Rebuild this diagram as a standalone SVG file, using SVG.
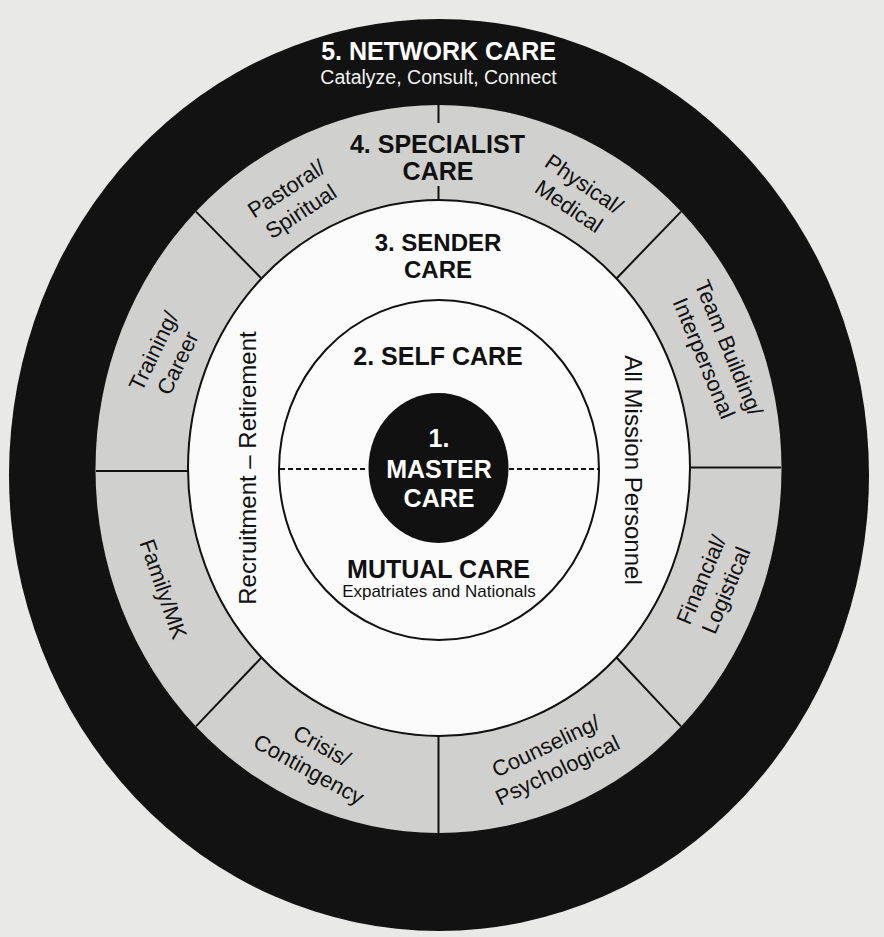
<svg xmlns="http://www.w3.org/2000/svg" width="884" height="937" viewBox="0 0 884 937">
  <style>
    text { font-family: "Liberation Sans", Arial, sans-serif; text-anchor: middle; }
    .head { font-weight: bold; font-size: 25px; fill: #111; }
    .head2 { font-weight: bold; font-size: 24px; fill: #111; }
    .headw { font-weight: bold; font-size: 25px; fill: #fff; }
    .sub { font-size: 17px; fill: #111; }
    .subw { font-size: 19.5px; fill: #f2f2f2; }
    .seg { font-size: 22px; fill: #111; }
    .vert { font-size: 24px; fill: #111; }
    .outline { fill: #fbfbfb; stroke: #111; stroke-width: 2; }
    .div { stroke: #111; stroke-width: 2; fill: none; }
    .dash { stroke: #111; stroke-width: 2; stroke-dasharray: 5 3; fill: none; }
  </style>
  <rect x="0" y="0" width="884" height="937" fill="#e9e9e7"/>

  <g id="ring-network">
    <ellipse cx="439" cy="475" rx="430" ry="456" fill="#121212"/>
    <text class="headw" x="438.5" y="59.5">5. NETWORK CARE</text>
    <text class="subw" x="438.5" y="84">Catalyze, Consult, Connect</text>
  </g>

  <g id="ring-specialist">
    <ellipse cx="438.5" cy="469" rx="343" ry="364" fill="#d0d0ce"/>
    <text class="head" x="437.5" y="153">4. SPECIALIST</text>
    <text class="head" x="438" y="180">CARE</text>
  </g>

  <g id="ring-sender">
    <ellipse class="outline" cx="439" cy="468" rx="251" ry="268"/>
    <text class="head2" x="438" y="250.5">3. SENDER</text>
    <text class="head2" x="438" y="277.5">CARE</text>
    <text class="vert" transform="translate(256,468) rotate(-90)">Recruitment – Retirement</text>
    <text class="vert" transform="translate(625,470) rotate(90)">All Mission Personnel</text>
  </g>

  <g id="ring-self">
    <ellipse class="outline" cx="439" cy="470" rx="160" ry="170"/>
    <text class="head" x="438" y="365">2. SELF CARE</text>
    <text class="head" x="438.5" y="578">MUTUAL CARE</text>
    <text class="sub" x="439" y="597">Expatriates and Nationals</text>
  </g>

  <g id="connectors">
    <line class="dash" x1="280" y1="469" x2="368" y2="469"/>
    <line class="dash" x1="509" y1="469" x2="598" y2="469"/>
    <line class="div" x1="438.5" y1="105" x2="438.5" y2="123"/>
    <line class="div" x1="438.5" y1="186" x2="438.5" y2="201"/>
    <line class="div" x1="438.5" y1="735" x2="438.5" y2="833"/>
    <line class="div" x1="96" y1="471" x2="189" y2="471"/>
    <line class="div" x1="689" y1="467.5" x2="781" y2="467.5"/>
    <line class="div" x1="196" y1="211.6" x2="261.5" y2="278.5"/>
    <line class="div" x1="681" y1="211.6" x2="616.5" y2="278.5"/>
    <line class="div" x1="196" y1="726.4" x2="261.5" y2="657.5"/>
    <line class="div" x1="681" y1="726.4" x2="616.5" y2="657.5"/>
  </g>

  <g id="master-care">
    <ellipse cx="438.5" cy="468" rx="70" ry="75" fill="#111"/>
    <text class="headw" x="439" y="447">1.</text>
    <text class="headw" x="439" y="478">MASTER</text>
    <text class="headw" x="439" y="507">CARE</text>
  </g>

  <g id="seg-pastoral" transform="translate(293.5,200) rotate(-33)">
    <text class="seg" y="-5.8">Pastoral/</text>
    <text class="seg" y="21.2">Spiritual</text>
  </g>
  <g id="seg-physical" transform="translate(576.5,195) rotate(34)">
    <text class="seg" y="-5.8">Physical/</text>
    <text class="seg" y="21.2">Medical</text>
  </g>
  <g id="seg-training" transform="translate(165.5,357) rotate(-64)">
    <text class="seg" y="-5.8">Training/</text>
    <text class="seg" y="21.2">Career</text>
  </g>
  <g id="seg-team" transform="translate(716.5,353) rotate(67.5)">
    <text class="seg" y="-5.8">Team Building/</text>
    <text class="seg" y="21.2">Interpersonal</text>
  </g>
  <g id="seg-family" transform="translate(163.5,589) rotate(71)">
    <text class="seg" y="7.7">Family/MK</text>
  </g>
  <g id="seg-financial" transform="translate(713.5,585) rotate(-67)">
    <text class="seg" y="-5.8">Financial/</text>
    <text class="seg" y="21.2">Logistical</text>
  </g>
  <g id="seg-crisis" transform="translate(315.5,757.5) rotate(29)">
    <text class="seg" y="-5.8">Crisis/</text>
    <text class="seg" y="21.2">Contingency</text>
  </g>
  <g id="seg-counseling" transform="translate(551.5,758) rotate(-25.5)">
    <text class="seg" y="-5.8">Counseling/</text>
    <text class="seg" y="21.2">Psychological</text>
  </g>
</svg>
